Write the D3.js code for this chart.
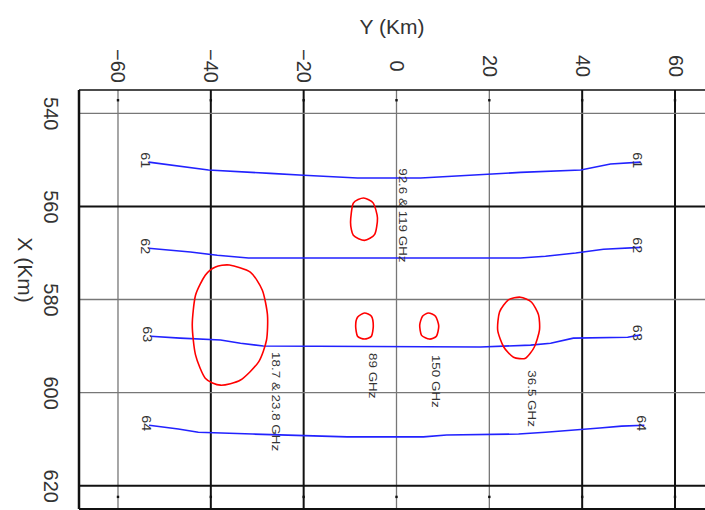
<!DOCTYPE html>
<html>
<head>
<meta charset="utf-8">
<script src="https://cdn.jsdelivr.net/npm/d3@7"></script>
<style>
  html, body { margin: 0; padding: 0; background: #fff; }
  svg { display: block; font-family: "Liberation Sans", Arial, sans-serif; }
</style>
</head>
<body>
<svg id="chart" width="705" height="510"></svg>
<script>
// Axis ticks (km)
const yKmTicks = [-60, -40, -20, 0, 20, 40, 60];
const xKmTicks = [540, 560, 580, 600, 620];

// Brightness-temperature contour levels and their traces [Y km, X km]
const contourLevels = [61, 62, 63, 64];
const contour61 = [[-53.4, 550.5], [-40.5, 552.2], [-27.2, 552.9], [-20, 553.3], [-8.4, 553.9], [5.2, 553.9], [26.7, 552.7], [39.7, 552.2], [46.1, 550.9], [52.6, 550.5]];
const contour62 = [[-53.4, 569.0], [-44.4, 569.8], [-38.6, 570.5], [-31.9, 571.1], [5.2, 571.1], [26.7, 571.1], [32.1, 570.7], [38.6, 570.0], [44.6, 569.2], [52.6, 568.8]];
const contour63 = [[-53.0, 587.9], [-46.6, 588.3], [-37.9, 588.7], [-33.6, 589.4], [-28.7, 590.0], [18.1, 590.2], [28.9, 589.8], [33.2, 589.4], [38.1, 588.3], [49.8, 588.1], [52.6, 587.6]];
const contour64 = [[-53.3, 607.0], [-47.0, 607.8], [-42.7, 608.5], [-31.0, 608.9], [-10.6, 609.5], [5.8, 609.5], [10.8, 609.1], [26.3, 608.9], [32.1, 608.5], [43.8, 607.6], [48.5, 607.2], [53.4, 607.0]];
const contours = [contour61, contour62, contour63, contour64];

// Channel footprints [Y km, X km]
const footprintHigh = [[-7.1, 558.2], [-5.0, 559.3], [-4.1, 562.5], [-4.7, 566.0], [-6.9, 567.3], [-9.3, 566.2], [-9.9, 563.4], [-9.3, 559.3]];
const footprintLow = [[-36.0, 572.6], [-31.5, 574.1], [-28.9, 578.0], [-27.8, 583.3], [-28.0, 588.7], [-29.7, 593.4], [-33.6, 597.3], [-37.9, 598.4], [-41.2, 596.9], [-43.3, 591.9], [-44.0, 585.5], [-43.3, 579.1], [-41.2, 574.8], [-39.0, 573.0]];
const footprint89 = [[-6.9, 582.9], [-5.4, 583.6], [-5.0, 585.7], [-5.4, 587.9], [-6.9, 588.5], [-8.4, 587.9], [-8.8, 585.7], [-8.4, 583.8]];
const footprint150 = [[6.9, 582.9], [8.4, 583.6], [9.1, 585.7], [8.6, 587.9], [7.1, 588.5], [5.4, 587.7], [5.0, 585.5], [5.6, 583.6]];
const footprint365 = [[26.7, 579.5], [29.1, 580.6], [30.6, 583.3], [30.8, 586.6], [29.7, 590.2], [27.8, 592.6], [25.2, 592.4], [23.1, 590.2], [21.8, 586.6], [22.2, 582.7], [24.1, 580.1]];
const footprints = [footprintHigh, footprintLow, footprint89, footprint150, footprint365];

// Channel annotations: text, [Y km, X km] of first character
const channelNames = ["92.6 & 119 GHz", "18.7 & 23.8 GHz", "89 GHz", "150 GHz", "36.5 GHz"];
const channelAnchors = [[1.3, 551.8], [-25.9, 591.3], [-5.2, 591.5], [8.4, 591.9], [29.1, 595.2]];

const svg = d3.select("#chart");

// Horizontal screen axis = Y (km), vertical screen axis = X (km)
const xs = d3.scaleLinear().domain([-68.4, 68.4]).range([79, 714]);
const ys = d3.scaleLinear().domain([535, 625]).range([90, 509]);

const boldY = new Set([-40, -20, 40, 60]);
const boldX = new Set([560, 620]);

// Grid
const grid = svg.append("g");
grid.selectAll("line.v").data(yKmTicks).join("line")
  .attr("x1", d => xs(d)).attr("x2", d => xs(d))
  .attr("y1", ys(535)).attr("y2", ys(625))
  .attr("stroke", d => boldY.has(d) ? "#111" : "#777")
  .attr("stroke-width", d => boldY.has(d) ? 2 : 1.3);
grid.selectAll("line.h").data(xKmTicks).join("line")
  .attr("x1", xs(-68.4)).attr("x2", xs(68.4))
  .attr("y1", d => ys(d)).attr("y2", d => ys(d))
  .attr("stroke", d => boldX.has(d) ? "#111" : "#777")
  .attr("stroke-width", d => boldX.has(d) ? 2 : 1.3);

// Frame
grid.append("line").attr("x1", xs(-68.4)).attr("x2", xs(68.4)).attr("y1", ys(535)).attr("y2", ys(535)).attr("stroke", "#111").attr("stroke-width", 1.6);
grid.append("line").attr("x1", xs(-68.4)).attr("x2", xs(68.4)).attr("y1", ys(625)).attr("y2", ys(625)).attr("stroke", "#111").attr("stroke-width", 2);
grid.append("line").attr("x1", xs(-68.4)).attr("x2", xs(-68.4)).attr("y1", ys(535)).attr("y2", ys(625)).attr("stroke", "#111").attr("stroke-width", 2.5);

// Minor tick dots along the frame
[537.2, 622.4].forEach(v => {
  grid.selectAll(null).data(yKmTicks).join("rect")
    .attr("x", d => xs(d) - 1.2).attr("y", ys(v) - 1.2)
    .attr("width", 2.4).attr("height", 2.4).attr("fill", "#111");
});

// Axes (labels rotated a quarter turn)
const topAxis = svg.append("g").attr("transform", `translate(0,${ys(535)})`)
  .call(d3.axisTop(xs).tickValues(yKmTicks).tickSize(0).tickFormat(d3.format("d")));
topAxis.select(".domain").remove();
topAxis.selectAll("text")
  .attr("y", 0).attr("dy", "0.35em")
  .attr("transform", "translate(0,-24) rotate(90)")
  .style("text-anchor", "middle")
  .attr("font-size", 20).attr("fill", "#333")
  .attr("font-family", "Liberation Sans, Arial, sans-serif");

const leftAxis = svg.append("g").attr("transform", `translate(${xs(-68.4)},0)`)
  .call(d3.axisLeft(ys).tickValues(xKmTicks).tickSize(0).tickFormat(d3.format("d")));
leftAxis.select(".domain").remove();
leftAxis.selectAll("text")
  .attr("x", 0).attr("dy", "0.35em")
  .attr("transform", "translate(-28,0) rotate(90)")
  .style("text-anchor", "middle")
  .attr("font-size", 20).attr("fill", "#333")
  .attr("font-family", "Liberation Sans, Arial, sans-serif");

// Axis titles
svg.append("text").attr("x", 392).attr("y", 34)
  .attr("text-anchor", "middle").attr("font-size", 21).attr("fill", "#333")
  .text("Y (Km)");
svg.append("text")
  .attr("transform", "translate(25,270) rotate(90)")
  .attr("dy", "0.35em")
  .attr("text-anchor", "middle").attr("font-size", 21).attr("fill", "#333")
  .text("X (Km)");

// Contour lines
const line = d3.line().x(d => xs(d[0])).y(d => ys(d[1]));
svg.append("g").selectAll("path").data(contours).join("path")
  .attr("d", line)
  .attr("fill", "none").attr("stroke", "#2222ff").attr("stroke-width", 1.6);

// Contour labels at both ends
const labelG = svg.append("g");
contours.forEach((c, i) => {
  [c[0], c[c.length - 1]].forEach(p => {
    labelG.append("text")
      .attr("transform", `translate(${xs(p[0]) - 3},${ys(p[1]) - 2}) rotate(90) scale(1.2,1)`)
      .attr("dy", "0.35em").attr("text-anchor", "middle")
      .attr("font-size", 12).attr("fill", "#333")
      .text(contourLevels[i]);
  });
});

// Channel footprints
const closed = d3.line().x(d => xs(d[0])).y(d => ys(d[1])).curve(d3.curveCardinalClosed.tension(0.3));
svg.append("g").selectAll("path").data(footprints).join("path")
  .attr("d", closed)
  .attr("fill", "none").attr("stroke", "#ff0000").attr("stroke-width", 1.6);

// Channel annotations
svg.append("g").selectAll("text").data(channelNames).join("text")
  .attr("transform", (d, i) => `translate(${xs(channelAnchors[i][0])},${ys(channelAnchors[i][1])}) rotate(90) scale(1.22,1)`)
  .attr("dy", "0.35em").attr("text-anchor", "start")
  .attr("font-size", 11).attr("fill", "#333")
  .text(d => d);
</script>
</body>
</html>
